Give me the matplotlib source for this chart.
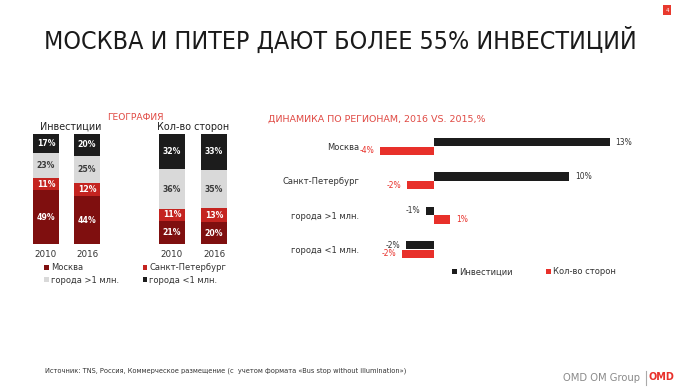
import matplotlib
matplotlib.use("Agg")
import matplotlib.pyplot as plt
from matplotlib.patches import Patch, Rectangle
import numpy as np

# ---------------- data ----------------
years = ["2010", "2016"]
geo_series = ["Москва", "Санкт-Петербург", "города >1 млн.", "города <1 млн."]
invest_2010 = [49, 11, 23, 17]
invest_2016 = [44, 12, 25, 20]
sides_2010 = [21, 11, 36, 32]
sides_2016 = [20, 13, 35, 33]

regions = ["Москва", "Санкт-Петербург", "города >1 млн.", "города <1 млн."]
dyn_invest = [13.0, 10.0, -0.6, -2.1]
dyn_sides = [-4.0, -2.0, 1.2, -2.4]
dyn_invest_labels = ["13%", "10%", "-1%", "-2%"]
dyn_sides_labels = ["-4%", "-2%", "1%", "-2%"]

title = "МОСКВА И ПИТЕР ДАЮТ БОЛЕЕ 55% ИНВЕСТИЦИЙ"
source = "Источник: TNS, Россия, Коммерческое размещение (с  учетом формата «Bus stop without illumination»)"

# ---------------- style ----------------
W, H = 688, 387
C_MOS = "#7f0f0f"
C_SPB = "#c42420"
C_BIG = "#d9d9d9"
C_SMALL = "#1c1c1c"
C_RED = "#e8302a"
C_TITLE_RED = "#e04a44"
seg_colors = [C_MOS, C_SPB, C_BIG, C_SMALL]
seg_text = ["white", "white", "#3a3a3a", "white"]

plt.rcParams['font.family'] = ['DejaVu Sans']

fig = plt.figure(figsize=(W / 100, H / 100), dpi=100)
fig.patch.set_facecolor("white")


def fx(x):
    return x / W


def fy(y):
    return 1 - y / H


def px_axes(l, t, r, b):
    return fig.add_axes([fx(l), fy(b), (r - l) / W, (b - t) / H])


# title
fig.text(fx(44), fy(48.5), title, fontsize=17.9, color="#1a1a1a",
         family=['Liberation Sans Narrow', 'DejaVu Sans'], ha="left", va="baseline",
         fontstretch="condensed")

# page number box
fig.patches.append(Rectangle((fx(663), fy(15)), 8 / W, 10 / H, transform=fig.transFigure,
                             facecolor="#e8392e", edgecolor="none"))
fig.text(fx(667), fy(10.5), "4", color="white", fontsize=4, ha="center", va="center")


# ---------------- stacked bars ----------------
def stacked(ax, cols):
    data = np.array(cols, dtype=float)  # shape (n_bars, n_series)
    shares = data / data.sum(axis=1, keepdims=True)
    x = np.arange(len(cols))
    bottom = np.zeros(len(cols))
    for i in range(data.shape[1]):
        ax.bar(x, shares[:, i], bottom=bottom, width=0.61, color=seg_colors[i],
               edgecolor="none", label=geo_series[i])
        for j in range(len(cols)):
            ax.text(x[j], bottom[j] + shares[j, i] / 2, f"{int(data[j, i])}%",
                    ha="center", va="center", fontsize=5.6, fontweight="bold",
                    color=seg_text[i])
        bottom += shares[:, i]
    ax.set_xlim(-0.5, len(cols) - 0.5)
    ax.set_ylim(0, 1)
    ax.set_xticks(x)
    ax.set_xticklabels(years, fontsize=6.3, color="#333333")
    ax.tick_params(axis="x", length=0, pad=4)
    ax.set_yticks([])
    for s in ax.spines.values():
        s.set_visible(False)


ax1 = px_axes(25.5, 134, 107.5, 244)
stacked(ax1, [invest_2010, invest_2016])
ax2 = px_axes(151, 134, 235, 244)
stacked(ax2, [sides_2010, sides_2016])

fig.text(fx(135.5), fy(117), "ГЕОГРАФИЯ", color=C_TITLE_RED, fontsize=6.6,
         ha="center", va="center")
fig.text(fx(71), fy(127), "Инвестиции", color="#222222", fontsize=6.9,
         ha="center", va="center")
fig.text(fx(193.5), fy(127), "Кол-во сторон", color="#222222", fontsize=6.9,
         ha="center", va="center")

h = [Patch(facecolor=c, edgecolor="none") for c in seg_colors]
order = [0, 2, 1, 3]
fig.legend([h[i] for i in order], [geo_series[i] for i in order], ncol=2,
           loc="upper left", bbox_to_anchor=(fx(44), fy(263)), frameon=False,
           fontsize=6, handlelength=0.55, handleheight=0.55, handletextpad=0.25,
           columnspacing=2.85, labelspacing=0.45, borderpad=0, borderaxespad=0,
           labelcolor="#333333")

# ---------------- diverging bars ----------------
ax3 = px_axes(360, 129.3, 636.5, 266.7)
y = np.arange(len(regions))
bh = 0.235
off = 0.125
b1 = ax3.barh(y - off, dyn_invest, height=bh, color=C_SMALL, label="Инвестиции")
b2 = ax3.barh(y + off, dyn_sides, height=bh, color=C_RED, label="Кол-во сторон")
ax3.set_xlim(-5.5, 15)
ax3.set_ylim(len(regions) - 0.5, -0.5)
ax3.set_yticks(y)
ax3.set_yticklabels(regions, fontsize=6, color="#333333")
ax3.tick_params(axis="y", length=0, pad=0.5)
ax3.set_xticks([])
for s in ax3.spines.values():
    s.set_visible(False)

for bars, labels, col in [(b1, dyn_invest_labels, "#333333"), (b2, dyn_sides_labels, C_RED)]:
    for rect, lab in zip(bars, labels):
        v = rect.get_width()
        yc = rect.get_y() + rect.get_height() / 2
        ax3.annotate(lab, (v, yc), xytext=(4.2 if v >= 0 else -4.2, 0),
                     textcoords="offset points", ha="left" if v >= 0 else "right",
                     va="center", fontsize=5.5, color=col)

fig.text(fx(268), fy(119), "ДИНАМИКА ПО РЕГИОНАМ, 2016 VS. 2015,%", color=C_TITLE_RED,
         fontsize=6.8, ha="left", va="center")

fig.legend([b1, b2], ["Инвестиции", "Кол-во сторон"], ncol=2, loc="center left",
           bbox_to_anchor=(fx(452), fy(272)), frameon=False, fontsize=6,
           handlelength=0.55, handleheight=0.55, handletextpad=0.25,
           columnspacing=4.1, borderpad=0, borderaxespad=0, labelcolor="#333333")

# ---------------- footer ----------------
fig.text(fx(45), fy(371), source, fontsize=4.75, color="#333333", ha="left", va="center")
fig.text(fx(640), fy(378), "OMD OM Group", fontsize=7.2, color="#8a8a8a",
         ha="right", va="center")
fig.lines.append(plt.Line2D([fx(646), fx(646)], [fy(371), fy(385)],
                            transform=fig.transFigure, color="#aaaaaa", lw=0.8))
fig.text(fx(661), fy(377), "OMD", fontsize=7, fontweight="bold", color="#e8302a",
         ha="center", va="center")

fig.savefig("out.png", dpi=100, facecolor="white")
